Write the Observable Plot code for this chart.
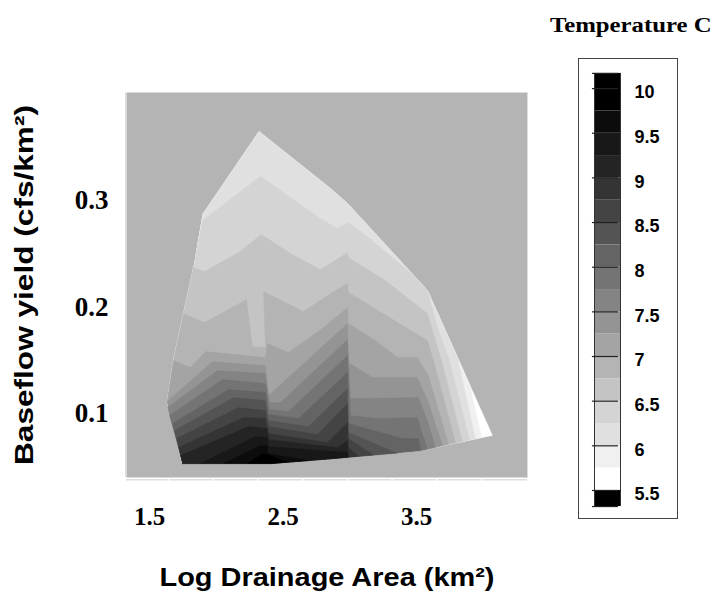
<!DOCTYPE html>
<html><head><meta charset="utf-8">
<script src="https://cdn.jsdelivr.net/npm/d3@7"></script>
<script src="https://cdn.jsdelivr.net/npm/@observablehq/plot@0.6"></script>
<style>
html,body{margin:0;padding:0;background:#fff}
#wrap{position:relative;width:716px;height:594px;overflow:hidden}
#main,#legend{position:absolute}
#main{left:0;top:0}
#legend{left:578px;top:58px;outline:1.5px solid #444;outline-offset:-1px;width:100px;height:461px}
#title{position:absolute;right:4px;top:14px;font:bold 20px "Liberation Serif",serif;color:#000;white-space:nowrap;transform:scaleX(1.238);transform-origin:right center}
svg{display:block;background:transparent !important}
</style></head><body>
<div id="wrap"><div id="main"></div><div id="title">Temperature C</div><div id="legend"></div></div>
<script>
const xTickLabels=[1.5,2.5,3.5];
const yTickLabels=[0.1,0.2,0.3];
const xMinorTicks=[1.5,1.835,2.17,2.505,2.84,3.175,3.51,3.845];
const upperHull=[[1.755,.2869],[2.178,.3648],[2.713,.3113],[2.841,.2972],[3.440,.2155]];
const bottomHull=[[3.927,.0793],[3.387,.0652],[2.713,.0575],[2.264,.0530],[1.605,.0530]];
const leftHull=[[1.490,.1113],[1.537,.1498],[1.612,.1939],[1.650,.2155],[1.687,.2371]];
const lineF0=[...upperHull,[3.759,.1263],[3.844,.0775]];
const lineE0=[...upperHull,[3.665,.1526],[3.799,.0762]];
const lineD4=[[1.755,.2812],[2.189,.3228],[2.638,.2831],[2.766,.2737],[2.841,.2793],[2.960,.2690],[3.312,.2324],[3.440,.2155],[3.522,.1779],[3.605,.1498],[3.755,.0751]];
const lineC4=[[1.687,.2371],[1.769,.2333],[2.024,.2512],[2.196,.2681],[2.429,.2493],[2.638,.2352],[2.841,.2512],[2.848,.2465],[3.125,.2249],[3.440,.1939],[3.545,.1498],[3.702,.0737]];
const lineB4=[[1.612,.1939],[1.769,.1854],[2.084,.2070],[2.129,.1629],[2.226,.1620],[2.211,.2146],[2.511,.1958],[2.713,.2127],[2.841,.2221],[2.848,.2136],[3.440,.1685],[3.485,.1498],[3.650,.0725]];
const lineA4=[[1.537,.1498],[1.665,.1432],[1.777,.1582],[2.226,.1526],[2.241,.1657],[2.399,.1573],[2.661,.1807],[2.841,.1995],[2.848,.1845],[3.050,.1685],[3.215,.1526],[3.365,.1526],[3.447,.1357],[3.597,.0712]];
const line94=[[1.490,.1113],[1.829,.1488],[2.226,.1451],[2.249,.1169],[2.841,.1845],[2.848,.1479],[3.028,.1338],[3.365,.1338],[3.447,.1103],[3.552,.0699]];
const line84=[[1.493,.1056],[1.867,.1404],[2.226,.1376],[2.257,.1103],[2.339,.1103],[2.841,.1695],[2.863,.1141],[3.372,.1150],[3.440,.0934],[3.500,.0681]];
const line74=[[1.507,.0981],[1.904,.1319],[2.226,.1282],[2.257,.1037],[2.399,.1019],[2.841,.1545],[2.863,.0981],[3.065,.0953],[3.365,.0962],[3.387,.0859],[3.440,.0667]];
const line64=[[1.530,.0906],[1.949,.1225],[2.226,.1197],[2.249,.0991],[2.474,.0953],[2.841,.1385],[2.848,.0906],[3.252,.0765],[3.372,.0765],[3.387,.0652]];
const line54=[[1.545,.0840],[1.987,.1150],[2.226,.1122],[2.249,.0934],[2.549,.0878],[2.841,.1235],[2.848,.0822],[3.215,.0627]];
const line44=[[1.560,.0765],[2.024,.1056],[2.226,.1028],[2.249,.0878],[2.616,.0803],[2.841,.1094],[2.848,.0765],[3.035,.0610]];
const line34=[[1.575,.0681],[2.062,.0962],[2.226,.0953],[2.249,.0812],[2.691,.0728],[2.841,.0915],[2.848,.0681],[2.923,.0599]];
const line24=[[1.590,.0606],[2.099,.0878],[2.241,.0859],[2.249,.0756],[2.766,.0681],[2.841,.0746],[2.848,.0591]];
const line14=[[1.740,.0530],[2.152,.0784],[2.241,.0775],[2.249,.0690],[2.841,.0634],[2.845,.0590]];
const line0a=[[1.912,.0530],[2.189,.0699],[2.241,.0699],[2.241,.0624],[2.564,.0559]];
const line00=[[2.092,.0530],[2.204,.0624],[2.241,.0615],[2.391,.0544]];
const contourLines=[lineF0,lineE0,lineD4,lineC4,lineB4,lineA4,line94,line84,line74,line64,line54,line44,line34,line24,line14,line0a,line00];
const levelColors=["#ffffff","#f0f0f0","#e0e0e0","#d4d4d4","#c4c4c4","#b4b4b4","#a4a4a4","#949494","#848484","#747474","#646464","#545454","#444444","#343434","#242424","#181818","#0c0c0c","#000000"];
const legendEdges=[10.17,9.75,9.5,9.25,9,8.75,8.5,8.25,8,7.75,7.5,7.25,7,6.75,6.5,6.25,6,5.75,5.5,5.32];
const legendColors=[...levelColors].reverse().concat(["#000000"]);
const legendTicks=[10.17,10,9.5,9,8.5,8,7.5,7,6.5,6,5.5,5.32];
const legendLabels=[10,9.5,9,8.5,8,7.5,7,6.5,6,5.5];
const xTitle="Log Drainage Area (km²)";
const yTitle="Baseflow yield (cfs/km²)";

const bottomY=d3.min(bottomHull,d=>d[1]);
function closeRegion(line){
  const start=line[0], end=line[line.length-1];
  const fromLeft=start[1]>bottomY+.001;
  return [...line,
    ...bottomHull.filter(p=>p[0]<end[0]&&(fromLeft||p[0]>start[0])),
    ...leftHull.filter(p=>p[1]<start[1])];
}
const regions=[[...upperHull,...bottomHull,...leftHull],...contourLines.map(closeRegion)];
const serif="'Liberation Serif',serif", sans="'Liberation Sans',Arial,sans-serif";

const main=Plot.plot({
  width:716,height:594,
  marginLeft:126,marginRight:189,marginTop:92,marginBottom:117,
  x:{domain:[1.1854,4.1889]},
  y:{domain:[0.0399,0.4014]},
  marks:[
    Plot.frame({fill:"#b4b4b4",stroke:null}),
    ...regions.map((r,i)=>Plot.line(r,{x:d=>d[0],y:d=>d[1],fill:levelColors[i],stroke:levelColors[i],strokeWidth:.3})),
    Plot.ruleY([0.0378],{stroke:"#dedede",strokeWidth:1.5}),
    Plot.ruleX([1.1779,4.1889],{stroke:"#dedede",strokeWidth:1}),
    Plot.ruleX(xMinorTicks,{y1:0.0360,y2:0.0390,stroke:"#fff",strokeWidth:1.5}),
    Plot.axisX({ticks:xTickLabels,tickSize:0,tickPadding:30,dx:-19,label:null,tickFormat:d3.format(".1f"),fontSize:25,fontFamily:serif,fontWeight:"bold",fill:"#000"}),
    Plot.axisY({ticks:yTickLabels,tickSize:0,tickPadding:18,label:null,tickFormat:d3.format(".1f"),fontSize:27,fontFamily:serif,fontWeight:"bold",fill:"#000"}),
    Plot.text([xTitle],{frameAnchor:"bottom",dy:108,fontSize:25,fontFamily:sans,fontWeight:"bold",fill:"#000"}),
    Plot.text([yTitle],{frameAnchor:"left",dx:-102,rotate:-90,textAnchor:"middle",fontSize:25,fontFamily:sans,fontWeight:"bold",fill:"#000"})
  ]
});
for (const t of main.querySelectorAll("text")) {
  const len=t.textContent===xTitle?335:t.textContent===yTitle?360:null;
  if (len) { t.setAttribute("textLength",len); t.setAttribute("lengthAdjust","spacingAndGlyphs"); }
}
document.getElementById("main").append(main);

const bands=legendColors.map((c,i)=>({c,y1:legendEdges[i],y2:legendEdges[i+1]}));
const legend=Plot.plot({
  width:100,height:461,
  marginLeft:16,marginRight:58,marginTop:0,marginBottom:0,
  x:{domain:[0,1],axis:null},
  y:{domain:[5.175,10.337],axis:null},
  marks:[
    Plot.rect(bands,{x1:0,x2:1,y1:"y1",y2:"y2",fill:"c"}),
    Plot.ruleX([0,1],{y1:5.32,y2:10.17,stroke:"#333",strokeWidth:1}),
    Plot.ruleY(legendTicks,{x1:-.08,x2:.92,stroke:"#222",strokeWidth:1.2}),
    Plot.text(legendLabels,{x:1,y:d=>d,text:d=>String(d),dx:14,dy:4,textAnchor:"start",fontSize:18,fontFamily:sans,fontWeight:"bold",fill:"#000"})
  ]
});
document.getElementById("legend").append(legend);
</script></body></html>
